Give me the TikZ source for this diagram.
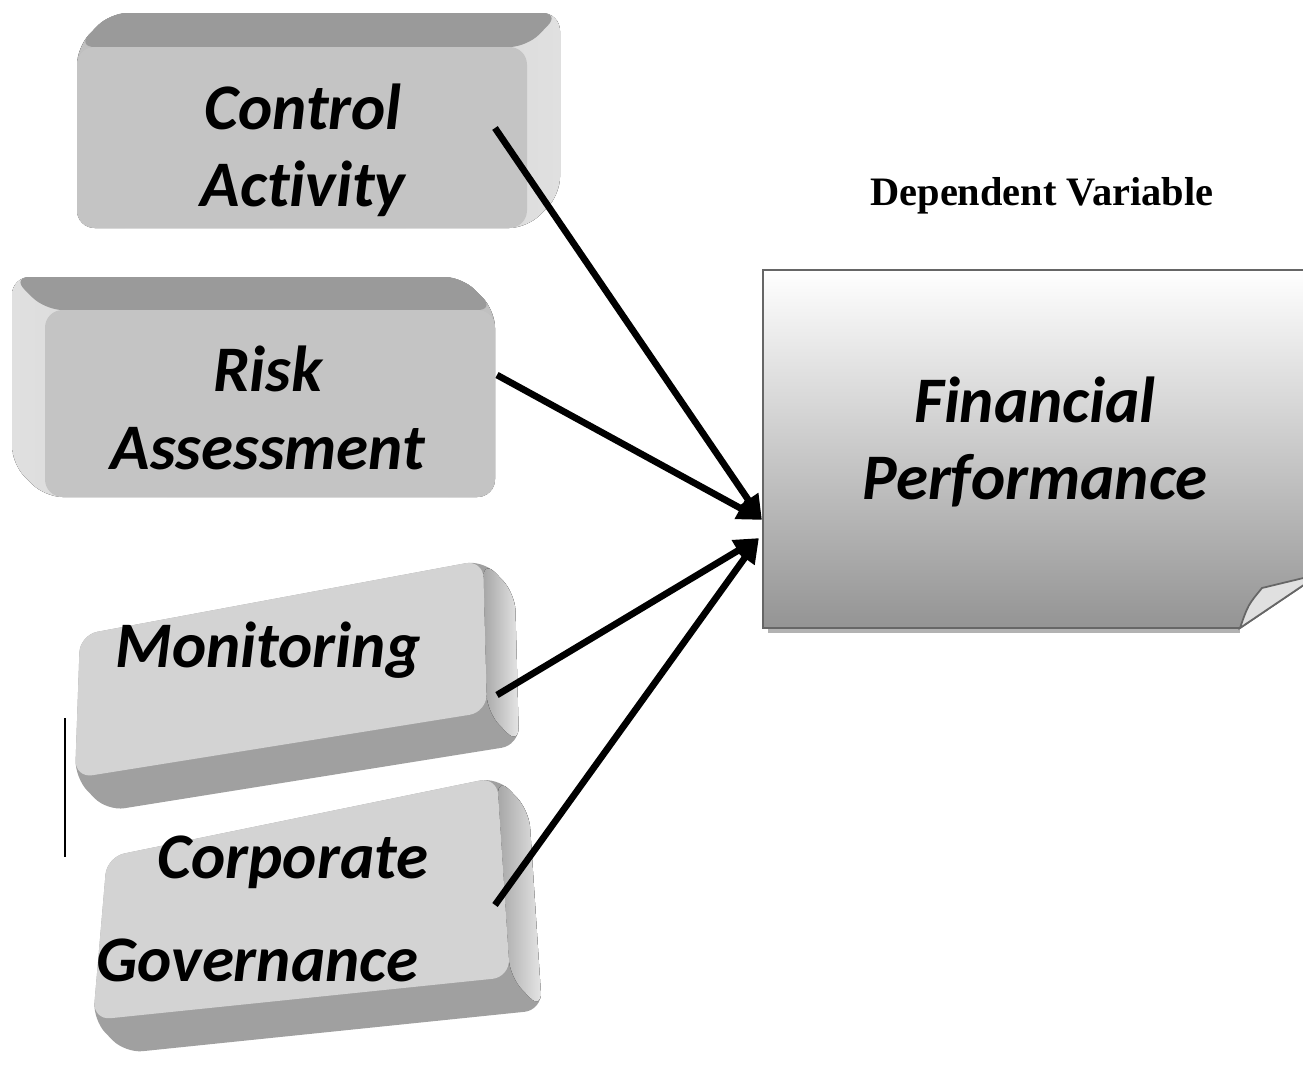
\documentclass[tikz,border=0pt]{standalone}
\usepackage{fontspec}
\usetikzlibrary{arrows.meta}
\newfontfamily\keyfont{Carlito}[Ligatures=NoCommon]
\newfontfamily\headfont{Liberation Serif}
\definecolor{keyface}{HTML}{C4C4C4}
\definecolor{keytop}{HTML}{9A9A9A}
\definecolor{keyside}{HTML}{E0E0E0}
\definecolor{tiltface}{HTML}{D3D3D3}
\definecolor{tiltbase}{HTML}{A0A0A0}

\begin{document}
\begin{tikzpicture}[x=0.02cm, y=-0.02cm,
  face/.style={rounded corners=10pt},
  keylabel/.style={font=\keyfont\bfseries\itshape\fontsize{37}{44}\selectfont, align=center, inner sep=0pt},
  arr/.style={-{Triangle[length=14pt,width=13pt]}, line width=3.8pt}
]
  \clip (0,0) rectangle (1303,1065);

  % control activity key
  \fill[face, left color=black!25, right color=keyside] (77,47) -- (110,13) -- (560,13) -- (560,195) -- (527,228) -- (77,228) -- cycle;
  \fill[face, keytop] (77,47) -- (110,13) -- (560,13) -- (527,47) -- cycle;
  \fill[face, keyface] (77,47) rectangle (527,228);

  % risk assessment key
  \fill[face, left color=keyside, right color=black!25] (12,277) -- (462,277) -- (495,310) -- (495,497) -- (45,497) -- (12,464) -- cycle;
  \fill[face, keytop] (12,277) -- (462,277) -- (495,310) -- (45,310) -- cycle;
  \fill[face, keyface] (45,310) rectangle (495,497);

  % monitoring key
  \fill[face, tiltbase] (80,635) -- (483,560) -- (515,593) -- (519,745) -- (107,811) -- (75,778) -- cycle;
  \fill[face, left color=black!35, right color=black!10] (483,560) -- (515,593) -- (519,745) -- (487,712) -- cycle;
  \fill[face, tiltface] (80,635) -- (483,560) -- (487,712) -- (75,778) -- cycle;

  % corporate governance key
  \fill[face, tiltbase] (107,857) -- (497,777) -- (529,810) -- (542,1010) -- (125,1053) -- (93,1020) -- cycle;
  \fill[face, left color=black!35, right color=black!10] (497,777) -- (529,810) -- (542,1010) -- (510,977) -- cycle;
  \fill[face, tiltface] (107,857) -- (497,777) -- (510,977) -- (93,1020) -- cycle;

  \draw[line width=0.8pt] (65,718) -- (65,857);

  % financial performance sheet
  \fill[black!30] (768,628) rectangle (1240,633);
  \draw[draw=black!60, line width=1pt, top color=white, bottom color=black!42]
    (763,270) -- (1320,270) -- (1320,574) -- (1240,628) -- (763,628) -- cycle;
  \draw[draw=black!60, line width=1pt, fill=black!12]
    (1240,628) .. controls (1248,605) .. (1262,588) -- (1320,574) -- cycle;

  \node[keylabel] (ca) at (303,150) {Control\\Activity};
  \node[keylabel] (ra) at (268,408) {Risk\\Assessment};
  \node[keylabel] (mo) at (268,650) {Monitoring};
  \node[keylabel] (cg1) at (293,862) {Corporate};
  \node[keylabel] (cg2) at (257,960) {Governance};
  \node[keylabel] (fp) at (1035,442) {Financial\\Performance};
  \node[font=\headfont\bfseries\fontsize{23}{28}\selectfont] (dv) at (1042,196) {Dependent Variable};

  \coordinate (ca-out) at (495,128);
  \coordinate (ra-out) at (497,375);
  \coordinate (mo-out) at (497,695);
  \coordinate (cg-out) at (495,905);
  \coordinate (fp-in1) at (762,520);
  \coordinate (fp-in2) at (759,538);

  \draw[arr] (ca-out) -- (fp-in1);
  \draw[arr] (ra-out) -- (fp-in1);
  \draw[arr] (mo-out) -- (fp-in2);
  \draw[arr] (cg-out) -- (fp-in2);
\end{tikzpicture}
\end{document}
